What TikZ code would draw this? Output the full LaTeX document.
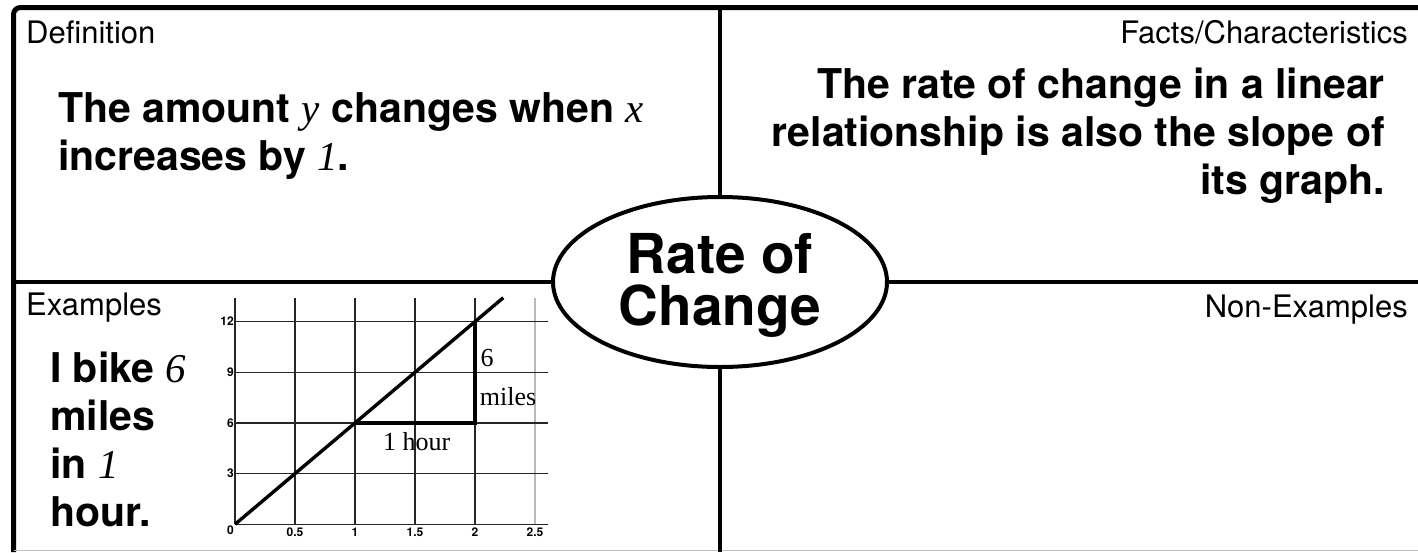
\documentclass[tikz,border=0pt]{standalone}
\usepackage{fontspec}
\setmainfont{TeX Gyre Heros}
\newfontfamily\serifvar{Liberation Serif}
\newcommand{\mvar}[1]{{\serifvar\mdseries\itshape #1}}
\usetikzlibrary{shapes.geometric, positioning}

\begin{document}
\begin{tikzpicture}[
    x=1pt, y=-1pt,
    frameline/.style={line width=5pt, rounded corners=7pt},
    divline/.style={line width=4pt},
    hub/.style={ellipse, draw, line width=4pt, fill=white,
                minimum width=334pt, minimum height=170pt, inner sep=0pt},
    hubtext/.style={align=center, inner sep=0pt,
                    font=\fontsize{55}{52}\selectfont\bfseries},
    caption/.style={font=\fontsize{31}{31}\selectfont, inner sep=0pt},
    bigtext/.style={font=\fontsize{41}{48}\selectfont\bfseries, inner sep=0pt},
    ticklbl/.style={font=\fontsize{12}{12}\selectfont\bfseries, inner sep=1pt},
    graphtext/.style={font=\serifvar\fontsize{26}{26}\selectfont, inner sep=0pt},
    gridline/.style={line width=1.3pt, black!85},
    plotline/.style={line width=3.4pt}
  ]
  \useasboundingbox (0,0) rectangle (1418,552);

  % frame and the four quadrants
  \draw[frameline] (13.5,552) -- (13.5,7.5) -- (1418,7.5);
  \draw[gray!50, line width=1.5pt] (13.5,550.5) -- (1418,550.5);
  \draw[divline] (720,7.5) -- (720,552);
  \draw[divline] (13.5,282) -- (1418,282);
  \node[hub] (roc) at (720,282) {};
  \node[hubtext, below=-49pt of roc.center] (roclbl) {Rate of\\Change};

  % quadrant headings
  \node[caption, anchor=base west] (defhead)  at (26,43)    {Definition};
  \node[caption, anchor=base east] (facthead) at (1408,43)  {Facts/Characteristics};
  \node[caption, anchor=base west] (exhead)   at (26,315)   {Examples};
  \node[caption, anchor=base east] (nonhead)  at (1408,317) {Non-Examples};

  % quadrant texts (base = last line)
  \node[bigtext, align=left, anchor=base west] (deftext) at (58,170)
    {The amount \mvar{y} changes when \mvar{x}\\increases by \mvar{1}.};
  \node[bigtext, align=right, anchor=base east] (facttext) at (1385,194)
    {The rate of change in a linear\\relationship is also the slope of\\its graph.};
  \node[bigtext, align=left, anchor=base west] (extext) at (50,526)
    {I bike \mvar{6}\\miles\\in \mvar{1}\\hour.};

  % graph: 1 hour = 120pt, 3 miles = 50.67pt
  \begin{scope}[shift={(235,524.3)}, x=120pt, y=16.89pt]
    \foreach \gx in {0,0.5,1,1.5,2}
      \draw[gridline] (\gx,0) -- (\gx,13.38);
    \draw[gridline, gray!55] (2.5,0) -- (2.5,13.38);
    \foreach \gy in {0,3,6,9,12}
      \draw[gridline] (0,\gy) -- (2.61,\gy);
    \foreach \gy in {3,6,9,12}
      \node[ticklbl, anchor=east] (yt\gy) at (0,\gy) {\gy};
    \node[ticklbl, anchor=north east] (org) at (0,0) {0};
    \foreach \gx/\lbl [count=\k] in {0.5/0.5,1/1,1.5/1.5,2/2,2.5/2.5}
      \node[ticklbl, anchor=north, yshift=-2pt] (xt\k) at (\gx,0) {\lbl};

    \draw[plotline] (0,0) -- (2.236,13.416);
    \draw[plotline] (1,6) -- (2,6) -- (2,12);
    \node[graphtext] (rise)  at (2.10,9.85)  {6};
    \node[graphtext] (unit)  at (2.275,7.55) {miles};
    \node[graphtext] (run)   at (1.514,4.89) {1 hour};
  \end{scope}
\end{tikzpicture}
\end{document}
